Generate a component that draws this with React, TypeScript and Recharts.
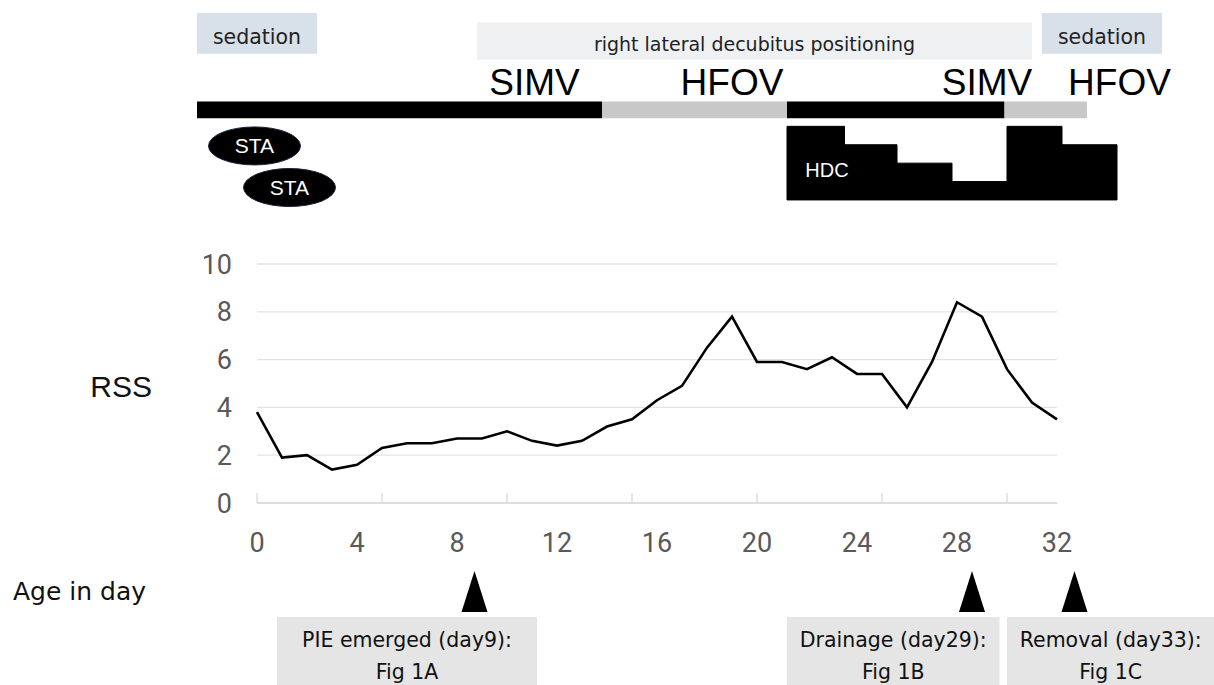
import {
  CartesianGrid,
  Line,
  LineChart,
  ReferenceArea,
  ReferenceDot,
  XAxis,
  YAxis,
} from "recharts";

// RSS by day of life
const DAYS = [
  0, 1, 2, 3, 4, 5, 6, 7, 8, 9, 10, 11, 12, 13, 14, 15, 16, 17, 18, 19, 20,
  21, 22, 23, 24, 25, 26, 27, 28, 29, 30, 31, 32,
];
const RSS = [
  3.8, 1.9, 2.0, 1.4, 1.6, 2.3, 2.5, 2.5, 2.7, 2.7, 3.0, 2.6, 2.4, 2.6, 3.2,
  3.5, 4.3, 4.9, 6.5, 7.8, 5.9, 5.9, 5.6, 6.1, 5.4, 5.4, 4.0, 5.9, 8.4, 7.8,
  5.6, 4.2, 3.5,
];
const Y_TICKS = [0, 2, 4, 6, 8, 10];
const X_LABEL_TICKS = [0, 4, 8, 12, 16, 20, 24, 28, 32];
const X_MARK_TICKS = [0, 5, 10, 15, 20, 25, 30];

// treatment timeline (day ranges, as drawn in the figure)
const SEDATION = [
  [-2.4, 2.4],
  [31.4, 36.2],
];
const POSITIONING = [8.8, 31.0];
const VENT_MODES = ["SIMV", "HFOV", "SIMV", "HFOV"];
const VENT_RANGES = [
  [-2.4, 13.8],
  [13.8, 21.2],
  [21.2, 29.9],
  [29.9, 33.2],
];
const VENT_LABEL_DAYS = [11.1, 19.0, 29.2, 34.5];
const STA_DAYS = [-0.1, 1.3];
const HDC_RANGES = [
  [21.2, 23.5],
  [23.5, 25.6],
  [25.6, 27.8],
  [27.8, 30.0],
  [30.0, 32.2],
  [32.2, 34.4],
];
const HDC_LEVELS = [4, 3, 2, 1, 4, 3];

// events under the axis
const EVENT_DAYS = [8.7, 28.6, 32.7];
const EVENT_BOXES = [
  [0.8, 11.2],
  [21.2, 29.7],
  [30.0, 38.3],
];
const EVENT_TEXT = [
  ["PIE emerged (day9):", "Fig 1A"],
  ["Drainage (day29):", "Fig 1B"],
  ["Removal (day33):", "Fig 1C"],
];

// vertical lanes, in RSS units (extend beyond the 0-10 plot)
const SEDATION_LANE = [18.8, 20.5];
const POSITIONING_LANE = [18.55, 20.1];
const VENT_LANE = [16.1, 16.8];
const VENT_TEXT_Y = 17.07;
const STA_Y = [14.94, 13.2];
const HDC_BASE = 12.68;
const HDC_STEP = 0.77;
const HDC_TEXT = [22.8, 13.93];
const ARROW_TIP_Y = -2.85;
const EVENT_LANE = [-8.2, -4.77];

const data = DAYS.map((d, i) => ({ day: d, rss: RSS[i] }));

const GOTHIC = '"DejaVu Sans", "Noto Sans CJK JP", sans-serif';
const ARIAL = '"Liberation Sans", Arial, sans-serif';
const TICK_GRAY = "#595959";

function DayTick(props: any) {
  const { x, y, payload } = props;
  const v = payload.value as number;
  return (
    <g>
      {v % 5 === 0 && (
        <line x1={x} x2={x} y1={y - 10} y2={y} stroke="#d9d9d9" strokeWidth={1.3} />
      )}
      {v % 4 === 0 && (
        <text
          x={x}
          y={y + 49}
          textAnchor="middle"
          fill={TICK_GRAY}
          fontSize={27}
          fontFamily="Roboto, sans-serif"
        >
          {v}
        </text>
      )}
    </g>
  );
}

function BoxText(props: any) {
  const { viewBox, lines } = props;
  const cx = viewBox.x + viewBox.width / 2;
  return (
    <text textAnchor="middle" fill="#111" fontSize={20.5} fontFamily={GOTHIC}>
      <tspan x={cx} y={viewBox.y + 30}>
        {lines[0]}
      </tspan>
      <tspan x={cx} y={viewBox.y + 62}>
        {lines[1]}
      </tspan>
    </text>
  );
}

export default function App() {
  return (
    <div style={{ position: "absolute", left: 0, top: 0, background: "#fff" }}>
      <LineChart
        width={1214}
        height={685}
        data={data}
        margin={{ top: 264, right: 157, bottom: 152, left: 197 }}
      >
        <CartesianGrid vertical={false} stroke="#e3e3e3" strokeWidth={1.3} />
        <XAxis
          dataKey="day"
          type="number"
          domain={[0, 32]}
          ticks={[...new Set([...X_LABEL_TICKS, ...X_MARK_TICKS])].sort((a, b) => a - b)}
          interval={0}
          tick={<DayTick />}
          tickLine={false}
          tickSize={0}
          tickMargin={0}
          height={30}
          axisLine={{ stroke: "#d9d9d9", strokeWidth: 1.3 }}
          label={{
            content: (p: any) => (
              <text
                x={p.viewBox.x - 244}
                y={p.viewBox.y + 97}
                fill="#111"
                fontSize={25}
                fontFamily={GOTHIC}
              >
                Age in day
              </text>
            ),
          }}
        />
        <YAxis
          domain={[0, 10]}
          ticks={Y_TICKS}
          width={60}
          axisLine={false}
          tickLine={false}
          tickSize={0}
          tickMargin={25}
          tick={{ fill: TICK_GRAY, fontSize: 27, fontFamily: "Roboto, sans-serif" }}
          label={{
            value: "RSS",
            position: "left",
            offset: 45,
            dy: 3,
            fill: "#111",
            fontSize: 30,
            fontFamily: ARIAL,
          }}
        />

        {SEDATION.map(([a, b], i) => (
          <ReferenceArea
            key={`sed${i}`}
            x1={a}
            x2={b}
            y1={SEDATION_LANE[0]}
            y2={SEDATION_LANE[1]}
            fill="#d8e0e9"
            fillOpacity={1}
            ifOverflow="visible"
            label={{ value: "sedation", position: "center", dy: 3, fill: "#222", fontSize: 20.5, fontFamily: GOTHIC }}
          />
        ))}
        <ReferenceArea
          x1={POSITIONING[0]}
          x2={POSITIONING[1]}
          y1={POSITIONING_LANE[0]}
          y2={POSITIONING_LANE[1]}
          fill="#eef0f2"
          fillOpacity={1}
          ifOverflow="visible"
          label={{
            value: "right lateral decubitus positioning",
            position: "center",
            dy: 3,
            fill: "#222",
            fontSize: 19,
            fontFamily: GOTHIC,
          }}
        />

        {VENT_RANGES.map(([a, b], i) => (
          <ReferenceArea
            key={`vent${i}`}
            x1={a}
            x2={b}
            y1={VENT_LANE[0]}
            y2={VENT_LANE[1]}
            fill={VENT_MODES[i] === "SIMV" ? "#000" : "#c8c8c8"}
            fillOpacity={1}
            ifOverflow="visible"
          />
        ))}
        {VENT_MODES.map((m, i) => (
          <ReferenceDot
            key={`ventlabel${i}`}
            x={VENT_LABEL_DAYS[i]}
            y={VENT_TEXT_Y}
            ifOverflow="visible"
            shape={(p: any) => (
              <text x={p.cx} y={p.cy} textAnchor="middle" fill="#000" fontSize={37} fontFamily={ARIAL}>
                {m}
              </text>
            )}
          />
        ))}

        {STA_DAYS.map((d, i) => (
          <ReferenceDot
            key={`sta${i}`}
            x={d}
            y={STA_Y[i]}
            ifOverflow="visible"
            shape={(p: any) => (
              <g>
                <ellipse cx={p.cx} cy={p.cy} rx={46} ry={19} fill="#000" stroke="#1a1f3a" strokeWidth={1} />
                <text x={p.cx} y={p.cy + 7} textAnchor="middle" fill="#fff" fontSize={21} fontFamily={ARIAL}>
                  STA
                </text>
              </g>
            )}
          />
        ))}

        {HDC_RANGES.map(([a, b], i) => (
          <ReferenceArea
            key={`hdc${i}`}
            x1={a}
            x2={b}
            y1={HDC_BASE}
            y2={HDC_BASE + HDC_LEVELS[i] * HDC_STEP}
            fill="#000"
            fillOpacity={1}
            stroke="#000"
            ifOverflow="visible"
          />
        ))}
        <ReferenceDot
          x={HDC_TEXT[0]}
          y={HDC_TEXT[1]}
          ifOverflow="visible"
          shape={(p: any) => (
            <text x={p.cx} y={p.cy + 7} textAnchor="middle" fill="#fff" fontSize={20} fontFamily={ARIAL}>
              HDC
            </text>
          )}
        />

        <Line
          type="linear"
          dataKey="rss"
          stroke="#000"
          strokeWidth={2.6}
          dot={false}
          isAnimationActive={false}
        />

        {EVENT_DAYS.map((d, i) => (
          <ReferenceDot
            key={`arrow${i}`}
            x={d}
            y={ARROW_TIP_Y}
            ifOverflow="visible"
            shape={(p: any) => (
              <polygon
                points={`${p.cx},${p.cy} ${p.cx - 13},${p.cy + 41} ${p.cx + 13},${p.cy + 41}`}
                fill="#000"
              />
            )}
          />
        ))}
        {EVENT_BOXES.map(([a, b], i) => (
          <ReferenceArea
            key={`box${i}`}
            x1={a}
            x2={b}
            y1={EVENT_LANE[0]}
            y2={EVENT_LANE[1]}
            fill="#e5e5e5"
            fillOpacity={1}
            ifOverflow="visible"
            label={<BoxText lines={EVENT_TEXT[i]} />}
          />
        ))}
      </LineChart>
    </div>
  );
}
